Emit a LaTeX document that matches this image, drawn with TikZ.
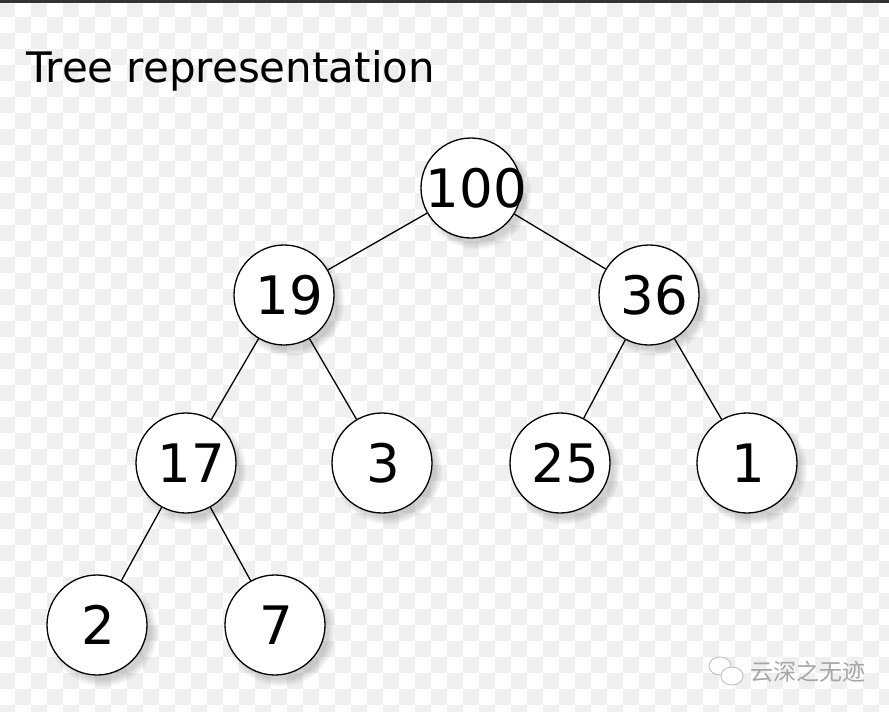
\documentclass[tikz,border=0pt]{standalone}
\usepackage{fontspec}
\setmainfont{DejaVu Sans}
\newfontfamily\cjk{Noto Sans CJK SC}
\usepackage{tikz}
\usetikzlibrary{positioning,shadows}
\definecolor{checkgray}{HTML}{EFEFEF}
\definecolor{topbar}{HTML}{333333}
% the longer numbers sit a little right of the circle centre
\newcommand{\keyval}[2][11pt]{\makebox[0pt][c]{\hspace{#1}#2}}

\begin{document}
\begin{tikzpicture}[
x=1pt, y=-1pt,
    heapnode/.style={
        circle,
        draw,
        line width=1.3pt,
        fill=white,
        minimum size=100pt,
        inner sep=0pt,
        font=\fontsize{53}{60}\selectfont,
        circular drop shadow={shadow xshift=5pt, shadow yshift=-6pt, opacity=0.35}
    }
]
\useasboundingbox (0,0) rectangle (889,712);

% The checkered background
\fill[white] (0,0) rectangle (889,712);
\foreach \i in {0,2,...,56}
  \foreach \j in {0,2,...,44} {
    \fill[checkgray] (\i*16-1,\j*16+1) rectangle +(16,16);
    \fill[checkgray] (\i*16+15,\j*16+17) rectangle +(16,16);
  }
\fill[topbar] (0,0) rectangle (889,3);

\node[anchor=base west, inner sep=0pt, font=\fontsize{42}{48}\selectfont]
      (title) at (26,82) {Tree representation};

\node[heapnode] (hundred)    at (471,188) {\keyval{100}};
\node[heapnode] (nineteen)   at (284,295) {\keyval{19}};
\node[heapnode] (thirtysix)  at (649,295) {\keyval{36}};
\node[heapnode] (seventeen)  at (186,463) {\keyval{17}};
\node[heapnode] (three)      at (382,463) {\keyval[2pt]{3}};
\node[heapnode] (twentyfive) at (560,463) {\keyval{25}};
\node[heapnode] (one)        at (747,463) {\keyval[2pt]{1}};
\node[heapnode] (two)        at (97,625)  {\keyval[2pt]{2}};
\node[heapnode] (seven)      at (275,625) {\keyval[2pt]{7}};

% The tree edges
\begin{scope}[line width=1.3pt]
\draw (hundred) -- (nineteen);
\draw (hundred) -- (thirtysix);
\draw (nineteen) -- (seventeen);
\draw (nineteen) -- (three);
\draw (thirtysix) -- (twentyfive);
\draw (thirtysix) -- (one);
\draw (seventeen) -- (two);
\draw (seventeen) -- (seven);
\end{scope}

% The watermark
\begin{scope}[gray!55, line width=0.8pt]
\draw[fill=white] (720,666) ellipse (11 and 9);
\draw[fill=white] (732,676) ellipse (11 and 9);
\end{scope}
\node[anchor=west, inner sep=0pt, text=gray!70, font=\cjk\fontsize{23}{26}\selectfont]
      (mark) at (750,672) {云深之无迹};
\end{tikzpicture}
\end{document}
